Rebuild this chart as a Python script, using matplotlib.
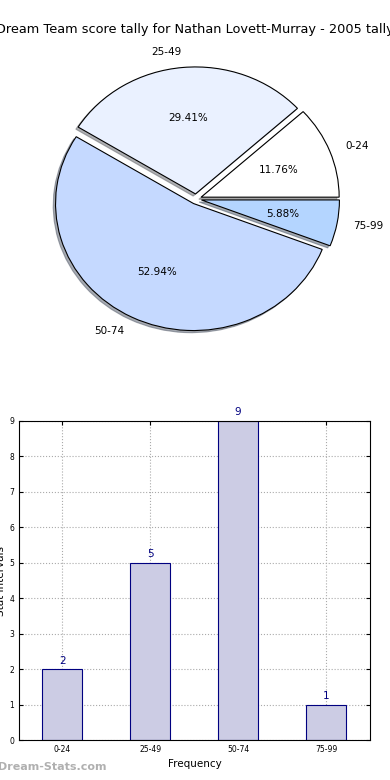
import matplotlib
matplotlib.use('Agg')
import matplotlib.pyplot as plt

# data
labels = ['0-24', '25-49', '50-74', '75-99']
counts = [2, 5, 9, 1]
pie_colors = ['#FFFFFF', '#EAF1FF', '#C5D9FF', '#B4D5FF']
title = 'Dream Team score tally for Nathan Lovett-Murray - 2005 tally'

W, H = 390, 780
fig = plt.figure(figsize=(W / 100, H / 100), dpi=100)

# pie chart (slightly stretched horizontally like the original)
cx, cy, rx, ry, L = 196, 199, 138, 127, 1.4
ax1 = fig.add_axes([(cx - L * rx) / W, (H - cy - L * ry) / H, 2 * L * rx / W, 2 * L * ry / H])
ax1.pie(counts, labels=labels, colors=pie_colors, explode=[0.04] * 4,
        autopct='%1.2f%%', shadow={'ox': -0.012, 'oy': -0.012, 'shade': 0.6},
        startangle=0, labeldistance=1.12,
        wedgeprops={'edgecolor': 'black', 'linewidth': 0.8},
        textprops={'fontsize': 7.5})
ax1.set_xlim(-L, L)
ax1.set_ylim(-L, L)
ax1.set_aspect('auto')
ax1.axis('off')

fig.text(0.5, 1 - 30 / H, title, ha='center', va='center', fontsize=9.3)

# bar chart
ax2 = fig.add_axes([19 / W, 40 / H, 351 / W, 319 / H])
x = range(len(labels))
bars = ax2.bar(x, counts, width=0.45, color='#CCCCE4', edgecolor='#000080', linewidth=0.8, zorder=2)
for b, v in zip(bars, counts):
    ax2.text(b.get_x() + b.get_width() / 2, v + 0.1, str(v), ha='center', va='bottom',
             fontsize=7.5, color='#000080')
ax2.set_xlim(-0.49, 3.5)
ax2.set_ylim(0, 9)
ax2.set_xticks(list(x))
ax2.set_xticklabels(labels)
ax2.set_yticks(range(10))
ax2.tick_params(labelsize=5.5, direction='in', top=True, right=True, length=3)
ax2.grid(True, linestyle=':', color='#aaaaaa', linewidth=0.8, zorder=0)
ax2.set_xlabel('Frequency', fontsize=7.5, labelpad=4)
ax2.set_ylabel('Stat Intervals', fontsize=7.5, labelpad=2)

fig.text(-0.005, 8 / H, 'Dream-Stats.com', ha='left', va='bottom', fontsize=8,
         fontweight='bold', color='#b0b0b0')

fig.savefig('out.png', dpi=100)
